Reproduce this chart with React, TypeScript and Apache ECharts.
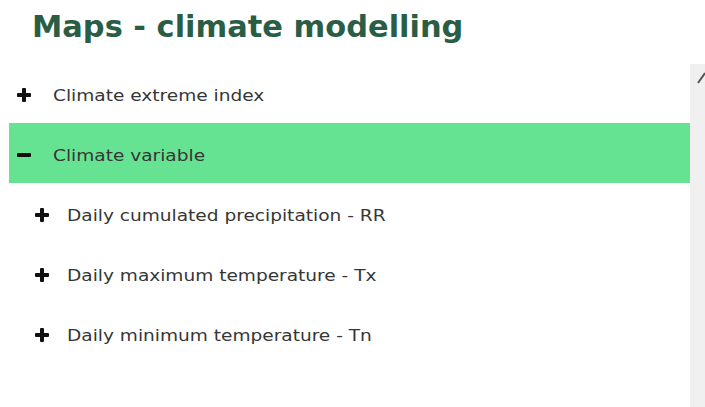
import React, { useEffect, useRef } from "react";
import * as echarts from "echarts";

const title = "Maps - climate modelling";
const itemLabels = [
  "Climate extreme index",
  "Climate variable",
  "Daily cumulated precipitation - RR",
  "Daily maximum temperature - Tx",
  "Daily minimum temperature - Tn",
];
const itemLevels = [0, 0, 1, 1, 1];
const itemExpanded = [false, true, false, false, false];
const itemSelected = [false, true, false, false, false];

export default function App() {
  const ref = useRef<HTMLDivElement>(null);
  useEffect(() => {
    if (!ref.current) return;
    const chart = echarts.init(ref.current, undefined, { renderer: "svg" });
    const rowH = 60;
    const firstY = 95;
    const els: any[] = [];
    els.push({
      type: "text",
      x: 32,
      y: 12,
      scaleX: 1.015,
      style: {
        text: title,
        fill: "#2a5d45",
        font: "bold 30px 'DejaVu Sans'",
        verticalAlign: "top",
      },
    });
    // scrollbar track
    els.push({
      type: "rect",
      shape: { x: 690, y: 64, width: 15, height: 343 },
      style: { fill: "#f0f0f0" },
    });
    els.push({
      type: "line",
      shape: { x1: 698, y1: 83, x2: 705, y2: 73 },
      style: { stroke: "#555", lineWidth: 2 },
    });
    itemLabels.forEach((label, i) => {
      const cy = firstY + i * rowH;
      if (itemSelected[i]) {
        els.push({
          type: "rect",
          shape: { x: 9, y: cy - 32, width: 681, height: 60 },
          style: { fill: "#66e392" },
        });
      }
      const iconX = itemLevels[i] === 0 ? 24 : 42;
      const textX = itemLevels[i] === 0 ? 53 : 67;
      els.push({
        type: "rect",
        shape: { x: iconX - 7, y: cy - 2, width: 14, height: 4, r: 1 },
        style: { fill: "#111" },
      });
      if (!itemExpanded[i]) {
        els.push({
          type: "rect",
          shape: { x: iconX - 2, y: cy - 7, width: 4, height: 14, r: 1 },
          style: { fill: "#111" },
        });
      }
      els.push({
        type: "text",
        x: textX,
        y: cy,
        scaleX: 1.16,
        style: {
          text: label,
          fill: "#363636",
          font: "16px 'DejaVu Sans'",
          verticalAlign: "middle",
        },
      });
    });
    chart.setOption({ animation: false, backgroundColor: "#fff", graphic: { elements: els } });
    return () => chart.dispose();
  }, []);
  return (
    <div
      ref={ref}
      style={{ position: "absolute", left: 0, top: 0, width: 705, height: 407 }}
    />
  );
}
